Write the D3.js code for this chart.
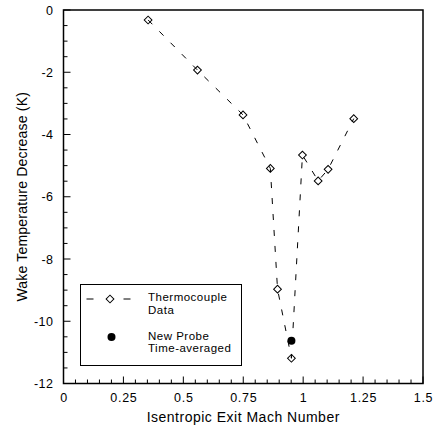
<!DOCTYPE html>
<html>
<head>
<meta charset="utf-8">
<script src="https://cdn.jsdelivr.net/npm/d3@7"></script>
<style>
  body { margin: 0; background: #fff; }
  text { font-family: "Liberation Sans", Arial, sans-serif; fill: #000; }
</style>
</head>
<body>
<svg id="chart" width="436" height="432"></svg>
<script>
// thermocouple data (dashed line + open diamonds)
var machThermo = [0.353, 0.559, 0.749, 0.863, 0.893, 0.951, 0.997, 1.0625, 1.104, 1.211];
var tempThermo = [-0.32, -1.93, -3.37, -5.09, -8.97, -11.19, -4.66, -5.49, -5.12, -3.49];

// new probe, time-averaged (filled circle)
var machProbe = [0.951];
var tempProbe = [-10.63];

var xTickLabels = ["0", "0.25", "0.5", "0.75", "1", "1.25", "1.5"];
var yTickLabels = ["0", "-2", "-4", "-6", "-8", "-10", "-12"];

var legendLabels = [["Thermocouple", "Data"], ["New Probe", "Time-averaged"]];

var svg = d3.select("#chart");
var margin = {left: 63.5, right: 13, top: 10, bottom: 48.5};
var width = 436 - margin.left - margin.right;
var height = 432 - margin.top - margin.bottom;

var g = svg.append("g")
    .attr("transform", "translate(" + margin.left + "," + margin.top + ")");

var x = d3.scaleLinear().domain([0, 1.5]).range([0, width]);
var y = d3.scaleLinear().domain([-12, 0]).range([height, 0]);

// minor ticks
var xMinor = d3.range(0, 1.5001, 0.05);
var yMinor = d3.range(-12, 0.0001, 0.5);

g.selectAll(".xminor").data(xMinor).enter().append("line")
    .attr("x1", function(d) { return x(d); })
    .attr("x2", function(d) { return x(d); })
    .attr("y1", height)
    .attr("y2", function(d, i) { return i % 5 === 0 ? height - 7 : height - 4; })
    .attr("stroke", "#000");

g.selectAll(".yminor").data(yMinor).enter().append("line")
    .attr("y1", function(d) { return y(d); })
    .attr("y2", function(d) { return y(d); })
    .attr("x1", 0)
    .attr("x2", function(d, i) { return i % 4 === 0 ? 7 : 4; })
    .attr("stroke", "#000");

// tick labels via axes
var xAxis = d3.axisBottom(x)
    .tickValues(xTickLabels.map(Number))
    .tickFormat(function(d, i) { return xTickLabels[i]; })
    .tickSize(0).tickPadding(10);
g.append("g").attr("transform", "translate(0," + height + ")").call(xAxis)
    .call(function(a) { a.select(".domain").remove(); })
    .selectAll("text").style("font-size", "12.5px").style("letter-spacing", "0.7px").attr("font-family", null);

var yAxis = d3.axisLeft(y)
    .tickValues(yTickLabels.map(Number))
    .tickFormat(function(d, i) { return yTickLabels[i]; })
    .tickSize(0).tickPadding(10);
g.append("g").call(yAxis)
    .call(function(a) { a.select(".domain").remove(); })
    .selectAll("text").style("font-size", "12.5px").style("letter-spacing", "0.5px").attr("font-family", null);

// frame
g.append("rect")
    .attr("x", 0).attr("y", 0)
    .attr("width", width).attr("height", height)
    .attr("fill", "none").attr("stroke", "#000").attr("stroke-width", 1.5);

// data
var thermo = machThermo.map(function(m, i) { return {x: m, y: tempThermo[i]}; });
var probe = machProbe.map(function(m, i) { return {x: m, y: tempProbe[i]}; });

var line = d3.line()
    .x(function(d) { return x(d.x); })
    .y(function(d) { return y(d.y); });

g.append("path")
    .datum(thermo)
    .attr("d", line)
    .attr("fill", "none")
    .attr("stroke", "#000")
    .attr("stroke-width", 1)
    .attr("stroke-dasharray", "6,10");

var diamond = d3.symbol().type(d3.symbolSquare).size(30);

g.selectAll(".thermo").data(thermo).enter().append("path")
    .attr("d", diamond)
    .attr("transform", function(d) { return "translate(" + x(d.x) + "," + y(d.y) + ") rotate(45)"; })
    .attr("fill", "none")
    .attr("stroke", "#000")
    .attr("stroke-width", 1);

g.selectAll(".probe").data(probe).enter().append("circle")
    .attr("cx", function(d) { return x(d.x); })
    .attr("cy", function(d) { return y(d.y); })
    .attr("r", 4)
    .attr("fill", "#000");

// legend
var legend = svg.append("g").attr("transform", "translate(80.5,284.5)");
legend.append("rect")
    .attr("width", 161).attr("height", 81)
    .attr("fill", "#fff").attr("stroke", "#000").attr("stroke-width", 1);
legend.append("line")
    .attr("x1", 6).attr("x2", 50).attr("y1", 14.5).attr("y2", 14.5)
    .attr("stroke", "#000").attr("stroke-dasharray", "7,13,4,30");
legend.append("line")
    .attr("x1", 43).attr("x2", 50).attr("y1", 14.5).attr("y2", 14.5)
    .attr("stroke", "#000");
legend.append("path")
    .attr("d", diamond)
    .attr("transform", "translate(29.5,14.5) rotate(45)")
    .attr("fill", "#fff").attr("stroke", "#000");
legend.append("circle")
    .attr("cx", 31).attr("cy", 52.5).attr("r", 4).attr("fill", "#000");

legend.selectAll(".ltext").data(legendLabels).enter().append("text")
    .attr("x", 67.5)
    .attr("y", function(d, i) { return 16.5 + i * 38.5; })
    .style("font-size", "11.5px")
    .style("letter-spacing", "0.5px")
    .each(function(d) {
      var t = d3.select(this);
      d.forEach(function(s, j) {
        t.append("tspan").attr("x", 67.5).attr("dy", j === 0 ? 0 : 12.5).text(s);
      });
    });

// axis titles
svg.append("text")
    .attr("x", margin.left + width / 2)
    .attr("y", 422)
    .attr("text-anchor", "middle")
    .style("font-size", "14px")
    .style("letter-spacing", "0.5px")
    .text("Isentropic Exit Mach Number");

svg.append("text")
    .attr("transform", "translate(27," + (margin.top + height / 2) + ") rotate(-90)")
    .attr("text-anchor", "middle")
    .style("font-size", "14px")
    .style("letter-spacing", "0.2px")
    .text("Wake Temperature Decrease (K)");
</script>
</body>
</html>
